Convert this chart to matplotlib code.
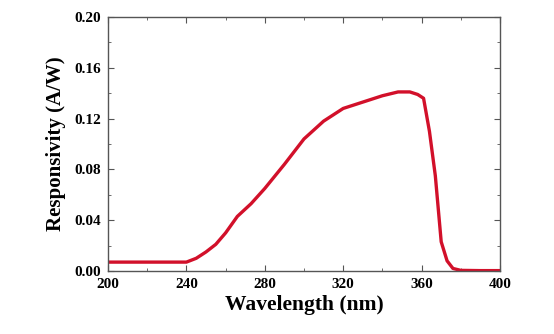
import matplotlib
matplotlib.use("Agg")
import matplotlib.pyplot as plt
from matplotlib.ticker import MultipleLocator

wavelength = [200, 220, 240, 245, 250, 255, 260, 266, 273, 280, 290, 300, 310, 320, 330, 340, 348, 354, 358, 361, 364, 367, 370, 373, 376, 380, 390, 400]
responsivity = [0.007, 0.007, 0.007, 0.010, 0.015, 0.021, 0.030, 0.043, 0.053, 0.065, 0.084, 0.104, 0.118, 0.128, 0.133, 0.138, 0.141, 0.141, 0.139, 0.136, 0.110, 0.075, 0.023, 0.008, 0.002, 0.0005, 0.0003, 0.0003]

xticks = [200, 240, 280, 320, 360, 400]
yticks = [0.00, 0.04, 0.08, 0.12, 0.16, 0.20]

plt.rcParams['font.family'] = ['Liberation Serif', 'DejaVu Serif']
fig = plt.figure(figsize=(5.54, 3.34), dpi=100)
ax = fig.add_axes([108/554, 1-271/334, (500-108)/554, (271-17)/334])
ax.plot(wavelength, responsivity, color='#d2102a', lw=2.4)
ax.set_xlim(200, 400)
ax.set_ylim(0, 0.2)
ax.set_xticks(xticks)
ax.set_yticks(yticks)
ax.set_xticklabels([str(v) for v in xticks], fontweight='bold', fontsize=11)
ax.set_yticklabels([f"{v:.2f}" for v in yticks], fontweight='bold', fontsize=11)
ax.xaxis.set_minor_locator(MultipleLocator(20))
ax.yaxis.set_minor_locator(MultipleLocator(0.02))
ax.tick_params(which='both', direction='in', top=True, right=True, color='#555555')
ax.tick_params(which='major', length=4, pad=5)
ax.tick_params(which='minor', length=2)
for s in ax.spines.values():
    s.set_color('#555555')
    s.set_linewidth(1.0)
ax.set_xlabel('Wavelength (nm)', fontsize=15.5, fontweight='bold', labelpad=3)
ax.set_ylabel('Responsivity (A/W)', fontsize=15, fontweight='bold', labelpad=6)
fig.savefig('out.png', dpi=100)
